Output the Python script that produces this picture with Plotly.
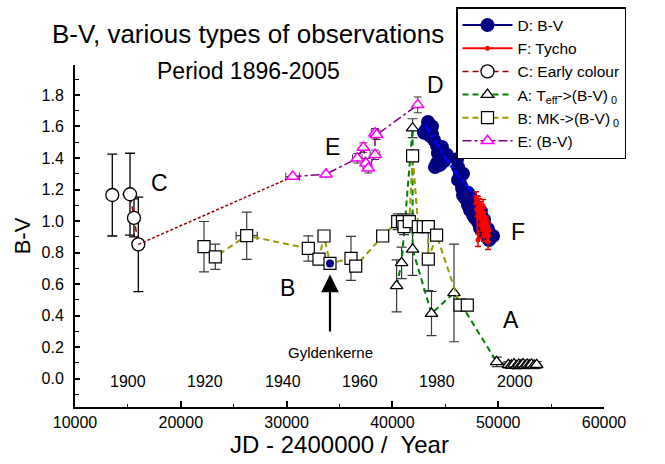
import plotly.graph_objects as go

# ---------------- data ----------------
# C: Early colour
c_x = [13525, 15200, 15575, 15985]
c_y = [1.165, 1.170, 1.020, 0.852]
c_err = [0.26, 0.26, 0.12, 0.30]

# E: (B-V)
e_x = [30576, 33724, 36683, 37250, 37505, 37722, 38355, 38355, 38510, 42391]
e_y = [1.282, 1.297, 1.398, 1.466, 1.367, 1.335, 1.420, 1.557, 1.547, 1.737]
e_err = [0.0, 0.0, 0.03, 0.03, 0.03, 0.03, 0.03, 0.03, 0.03, 0.05]
e_errx = [650, 0, 450, 0, 0, 0, 450, 350, 0, 0]

# A: Teff -> (B-V)0
a_x = [40398, 40870, 41909, 41909, 43696, 45822, 49857, 50960, 51250, 51500,
       51750, 51950, 52150, 52350, 52550, 52750, 52950, 53150, 53400, 53640]
a_y = [0.589, 0.735, 1.589, 0.820, 0.413, 0.544, 0.106, 0.088, 0.085, 0.092,
       0.082, 0.090, 0.086, 0.092, 0.083, 0.090, 0.086, 0.091, 0.084, 0.088]
a_err = [0.165, 0.10, 0.06, 0.165, 0.14, 0.31, 0.03, 0.02, 0.02, 0.02,
         0.02, 0.02, 0.02, 0.02, 0.02, 0.02, 0.02, 0.02, 0.02, 0.02]

# B: MK -> (B-V)0
b_x = [22193, 23261, 26228, 32051, 33062, 33535, 34102, 36087, 36531, 39078,
       40500, 40950, 41096, 41597, 41909, 42450, 42920, 43394, 43394, 44178,
       46390, 47080]
b_y = [0.837, 0.773, 0.907, 0.826, 0.758, 0.905, 0.731, 0.763, 0.714, 0.905,
       0.996, 0.996, 0.964, 0.996, 1.413, 0.964, 0.964, 0.964, 0.758, 0.911,
       0.466, 0.466]
b_err = [0.16, 0.08, 0.15, 0.08, 0.0, 0.0, 0.0, 0.14, 0.0, 0.0,
         0.05, 0.05, 0.05, 0.05, 0.0, 0.0, 0.0, 0.0, 0.20, 0.0,
         0.0, 0.0]
b_errx = [0, 0, 1000, 0, 0, 0, 0, 0, 0, 0,
          0, 0, 300, 0, 0, 0, 0, 0, 0, 0,
          0, 0]

# D: B-V (photoelectric)
d_x = [42988, 43177, 43366, 43555, 43366, 43744, 43933, 43555, 43744, 44216,
       44500, 44594, 44216, 44026, 44500, 44878, 44878, 44689, 44311, 45161,
       46107, 46201, 46390, 46201, 46579, 46674, 46863, 47146, 47335, 47146,
       46674, 47430, 47619, 47808, 48092, 48281, 48565, 48754, 48943, 49038,
       49133, 49227, 49511, 49038, 48376, 47900, 48659]
d_y = [1.560, 1.579, 1.629, 1.604, 1.591, 1.553, 1.515, 1.540, 1.600, 1.477,
       1.451, 1.400, 1.369, 1.343, 1.356, 1.413, 1.380, 1.470, 1.430, 1.420,
       1.392, 1.341, 1.297, 1.261, 1.210, 1.165, 1.146, 1.102, 1.070, 1.180,
       1.300, 1.150, 1.038, 1.019, 0.994, 0.956, 0.930, 0.969, 0.924, 0.892,
       0.879, 0.905, 0.905, 0.950, 1.060, 1.090, 1.010]
# Gyldenkerne single D value
g_x = [34102]
g_y = [0.731]
# trend line through D
dt_x = [43083, 45445, 47180, 48754]
dt_y = [1.611, 1.356, 1.208, 1.070]

# F: Tycho
f_x = [47903, 47997, 48092, 48187, 48281, 48376, 48470, 48565, 48565, 48659,
       48754, 48754, 48848, 48943, 49038, 49133, 48376, 48659, 48092, 47950,
       48187, 48470, 48848, 48281, 48565, 48943, 49038]
f_y = [1.146, 1.070, 1.115, 1.102, 1.083, 1.051, 1.006, 1.038, 1.096, 0.981,
       1.019, 0.956, 0.969, 0.930, 0.905, 0.943, 0.975, 0.911, 0.879, 1.120,
       1.060, 1.040, 0.990, 1.020, 0.990, 0.960, 0.870]
f_err = [0.04, 0.04, 0.04, 0.04, 0.04, 0.04, 0.04, 0.04, 0.04, 0.04,
         0.04, 0.04, 0.04, 0.04, 0.04, 0.04, 0.04, 0.04, 0.04, 0.04,
         0.04, 0.04, 0.04, 0.04, 0.04, 0.04, 0.05]

x_ticks = [10000, 20000, 30000, 40000, 50000, 60000]
y_ticks = [0.0, 0.2, 0.4, 0.6, 0.8, 1.0, 1.2, 1.4, 1.6, 1.8]

year_labels = ["1900", "1920", "1940", "1960", "1980", "2000"]
year_jd = [15020, 22325, 29630, 36935, 44240, 51545]

letters = ["C", "E", "D", "B", "F", "A"]
letters_x = [18030, 34385, 44026, 30040, 51871, 51210]
letters_y = [1.24, 1.47, 1.865, 0.574, 0.93, 0.37]

FONT = "Liberation Sans, Arial, Helvetica, sans-serif"
ERRC = "#3a3a3a"

fig = go.Figure()

# C early colour
fig.add_trace(go.Scatter(
    x=c_x, y=c_y, mode="lines+markers", name="C: Early colour",
    line=dict(color="#990000", width=1.5, dash="6px,4px"),
    marker=dict(symbol="circle", size=13, color="white", line=dict(color="black", width=1.3)),
    error_y=dict(type="data", array=c_err, color="black", thickness=1.3, width=5),
    legendrank=3))
# connector C -> E
fig.add_trace(go.Scatter(
    x=[c_x[-1], e_x[0]], y=[c_y[-1], e_y[0]], mode="lines", showlegend=False,
    line=dict(color="#990000", width=1.5, dash="3px,2px"), hoverinfo="skip"))

# E
fig.add_trace(go.Scatter(
    x=e_x, y=e_y, mode="lines+markers", name="E: (B-V)",
    line=dict(color="#800080", width=1.5, dash="dashdot"),
    marker=dict(symbol="triangle-up", size=11, color="white", line=dict(color="#ff00ff", width=1.5)),
    error_y=dict(type="data", array=e_err, color=ERRC, thickness=1, width=4),
    error_x=dict(type="data", array=e_errx, color=ERRC, thickness=1, width=4),
    legendrank=6))

# A
fig.add_trace(go.Scatter(
    x=a_x, y=a_y, mode="lines+markers", name="A: T<sub>eff</sub>->(B-V)<sub> 0</sub>",
    line=dict(color="#008000", width=2, dash="6px,4px"),
    marker=dict(symbol="triangle-up", size=11, color="white", line=dict(color="black", width=1.3)),
    error_y=dict(type="data", array=a_err, color=ERRC, thickness=1.2, width=5),
    legendrank=4))

# B
fig.add_trace(go.Scatter(
    x=b_x, y=b_y, mode="lines+markers", name="B: MK->(B-V)<sub> 0</sub>",
    line=dict(color="#999900", width=2, dash="6px,4px"),
    marker=dict(symbol="square", size=12, color="white", line=dict(color="black", width=1.2)),
    error_y=dict(type="data", array=b_err, color=ERRC, thickness=1.2, width=5),
    error_x=dict(type="data", array=b_errx, color=ERRC, thickness=1.2, width=4),
    legendrank=5))

# D
fig.add_trace(go.Scatter(
    x=d_x, y=d_y, mode="lines+markers", name="D: B-V",
    line=dict(color="#000080", width=2),
    marker=dict(symbol="circle", size=14, color="#000080"),
    legendrank=1))
fig.add_trace(go.Scatter(
    x=g_x, y=g_y, mode="markers", showlegend=False,
    marker=dict(symbol="circle", size=8, color="#000080")))
fig.add_trace(go.Scatter(
    x=dt_x, y=dt_y, mode="lines", showlegend=False, hoverinfo="skip",
    line=dict(color="#0000ff", width=2.5, dash="dashdot")))

# F
fig.add_trace(go.Scatter(
    x=f_x, y=f_y, mode="lines+markers", name="F: Tycho",
    line=dict(color="#ff0000", width=2),
    marker=dict(symbol="circle", size=5, color="#ff0000"),
    error_y=dict(type="data", array=f_err, color="#dd0000", thickness=1.5, width=3),
    legendrank=2))

annotations = []
annotations.append(dict(text="B-V, various types of observations", xref="paper", yref="paper",
                        x=(248 - 75) / 529, y=(407 - 34) / 342, xanchor="center", yanchor="middle",
                        showarrow=False, font=dict(size=26, family=FONT, color="black")))
annotations.append(dict(text="Period 1896-2005", xref="paper", yref="paper",
                        x=(248 - 75) / 529, y=(407 - 71) / 342, xanchor="center", yanchor="middle",
                        showarrow=False, font=dict(size=23, family=FONT, color="black")))
for t, xx in zip(year_labels, year_jd):
    annotations.append(dict(text=t, x=xx, y=-0.02, xref="x", yref="y", showarrow=False,
                            xanchor="center", font=dict(size=16, family=FONT, color="black")))
for t, xx, yy in zip(letters, letters_x, letters_y):
    annotations.append(dict(text=t, x=xx, y=yy, xref="x", yref="y", showarrow=False,
                            xanchor="center", font=dict(size=23, family=FONT, color="black")))
annotations.append(dict(text="Gyldenkerne", x=g_x[0], y=0.168, xref="x", yref="y", showarrow=False,
                        xanchor="center", font=dict(size=15, family=FONT, color="black")))
annotations.append(dict(text="", x=g_x[0], y=0.66, xref="x", yref="y", ax=g_x[0], ay=0.29,
                        axref="x", ayref="y", showarrow=True, arrowhead=2, arrowsize=1.6,
                        arrowwidth=2.2, arrowcolor="black"))

fig.update_layout(
    width=665, height=464,
    margin=dict(l=75, r=61, t=65, b=57, autoexpand=False),
    paper_bgcolor="white", plot_bgcolor="white",
    font=dict(family=FONT, color="black", size=16),
    showlegend=True,
    legend=dict(x=(456 - 75) / 529, y=(407 - 7) / 342, xanchor="left", yanchor="top",
                bordercolor="black", borderwidth=1.5, bgcolor="white",
                font=dict(size=15.5, family=FONT), itemwidth=50, tracegroupgap=0),
    annotations=annotations,
)
fig.update_xaxes(
    range=[10000, 60000], showgrid=False, zeroline=False,
    showline=True, linecolor="black", linewidth=2,
    tickmode="array", tickvals=x_ticks, ticktext=[str(v) for v in x_ticks],
    ticks="inside", ticklen=6, tickwidth=1.5, tickcolor="black",
    tickfont=dict(size=16, family=FONT),
    minor=dict(tickvals=[15000, 25000, 35000, 45000, 55000], ticks="inside",
               ticklen=3, tickwidth=1, tickcolor="black"),
    title=dict(text="JD - 2400000 /&nbsp; Year", font=dict(size=24, family=FONT), standoff=6),
)
fig.update_yaxes(
    range=[-0.18, 1.99], showgrid=False, zeroline=False,
    showline=True, linecolor="black", linewidth=2,
    tickmode="array", tickvals=y_ticks, ticktext=[f"{v:.1f}" for v in y_ticks],
    ticks="inside", ticklen=5, tickwidth=1.5, tickcolor="black",
    tickfont=dict(size=16, family=FONT), ticklabelstandoff=6,
    minor=dict(tickvals=[-0.1, 0.1, 0.3, 0.5, 0.7, 0.9, 1.1, 1.3, 1.5, 1.7, 1.9], ticks="inside",
               ticklen=4, tickwidth=1, tickcolor="black"),
    title=dict(text="B-V", font=dict(size=22, family=FONT), standoff=5),
)

fig.write_html("out.html", config={"displayModeBar": False},
               post_script="document.body.style.margin='0px';")
